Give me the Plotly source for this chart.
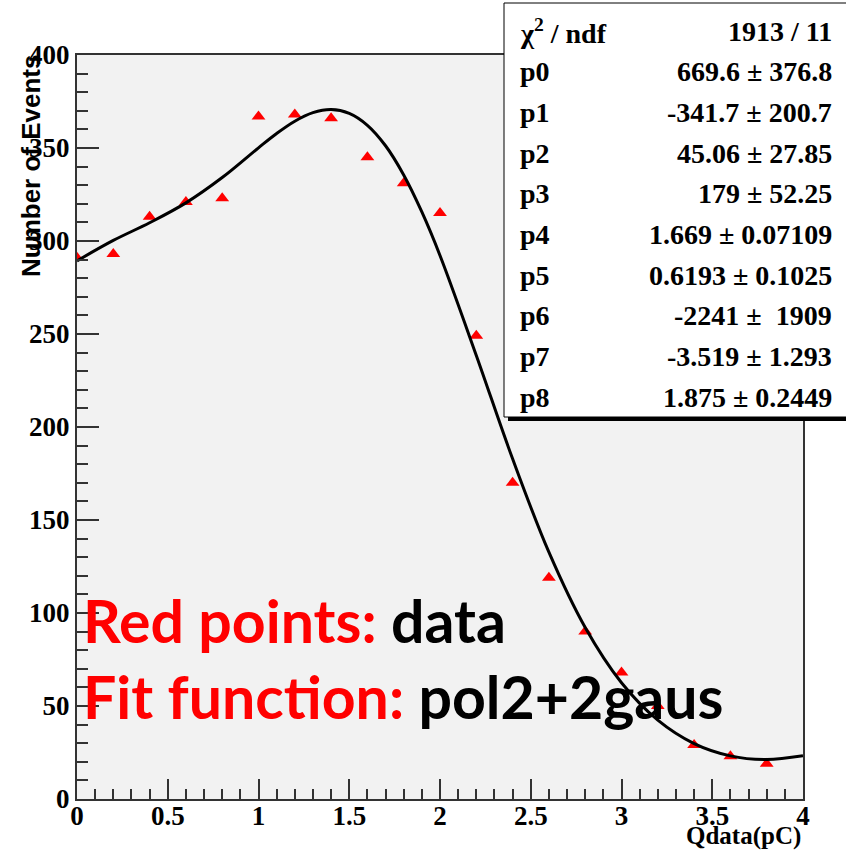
import plotly.graph_objects as go

# ---- data points (red triangles) ----
x_data = [0.0, 0.2, 0.4, 0.6, 0.8, 1.0, 1.2, 1.4, 1.6, 1.8, 2.0, 2.2, 2.4, 2.6, 2.8, 3.0, 3.2, 3.4, 3.6, 3.8]
y_data = [291, 293, 313, 321, 323, 367, 368, 366, 345, 331, 315, 249, 170, 119, 90, 68, 50, 29, 23, 19]

# ---- fit curve (pol2+2gaus), values read at sample positions ----
fit_x = [0.0, 0.2, 0.4, 0.6, 0.8, 1.0, 1.1, 1.2, 1.3, 1.4, 1.5, 1.6, 1.7, 1.8, 1.9, 2.0,
         2.2, 2.4, 2.6, 2.8, 3.0, 3.2, 3.4, 3.6, 3.8, 4.0]
fit_y = [289.3, 300.3, 309.8, 320.5, 334.1, 350.1, 357.8, 364.4, 369.0, 370.7, 368.6, 362.2,
         351.2, 335.5, 315.6, 292.2, 238.5, 182.9, 132.7, 92.2, 62.5, 42.4, 29.8, 23.2, 21.2, 23.2]

# ---- stats box ----
stat_names = ["χ<sup>2</sup> / ndf", "p0", "p1", "p2", "p3", "p4", "p5", "p6", "p7", "p8"]
stat_values = ["1913 / 11", "669.6 ± 376.8", "-341.7 ± 200.7", "45.06 ± 27.85", "179 ± 52.25",
               "1.669 ± 0.07109", "0.6193 ± 0.1025", "-2241 ±  1909", "-3.519 ± 1.293",
               "1.875 ± 0.2449"]

W, H = 846, 852
L, R, T, B = 77, 43, 55, 53
PW, PH = W - L - R, H - T - B


def px(xp):
    return (xp - L) / PW


def py(yp):
    return (H - B - yp) / PH


fig = go.Figure()
fig.add_trace(go.Scatter(x=x_data, y=y_data, mode="markers",
                         marker=dict(symbol="triangle-up", size=12, color="#ff0000",
                                     line=dict(width=0)),
                         hoverinfo="skip"))
fig.add_trace(go.Scatter(x=fit_x, y=fit_y, mode="lines",
                         line=dict(color="black", width=3, shape="spline"),
                         hoverinfo="skip"))

tickfont = dict(family="Liberation Serif", size=27, color="black", weight="bold")
axis_common = dict(ticks="inside", tickwidth=1.5, tickcolor="#333333", showline=True,
                   linecolor="#333333", linewidth=2, mirror=True, showgrid=False,
                   zeroline=False, tickfont=tickfont)

fig.update_layout(
    width=W, height=H,
    margin=dict(l=L, r=R, t=T, b=B),
    paper_bgcolor="white",
    plot_bgcolor="#f2f2f2",
    showlegend=False,
    xaxis=dict(range=[0, 4], tick0=0, dtick=0.5, ticklen=20, ticklabelstandoff=-8,
               minor=dict(dtick=0.1, ticks="inside", ticklen=10, tickwidth=1.5,
                          tickcolor="#333333", showgrid=False),
               **axis_common),
    yaxis=dict(range=[0, 400], tick0=0, dtick=50, ticklen=22,
               minor=dict(dtick=10, ticks="inside", ticklen=11, tickwidth=1.5,
                          tickcolor="#333333", showgrid=False),
               **axis_common),
)

# stats box with shadow
fig.add_shape(type="rect", xref="paper", yref="paper", layer="above",
              x0=px(508), x1=px(860), y0=py(421), y1=py(7),
              fillcolor="black", line=dict(width=0))
fig.add_shape(type="rect", xref="paper", yref="paper", layer="above",
              x0=px(504), x1=px(856), y0=py(417), y1=py(3),
              fillcolor="white", line=dict(color="black", width=1))

statfont = dict(family="Liberation Serif", size=28, color="black", weight="bold")
for i, (n, v) in enumerate(zip(stat_names, stat_values)):
    yc = py(31 + i * 40.7)
    fig.add_annotation(x=px(518), y=yc, xref="paper", yref="paper", text=n,
                       showarrow=False, xanchor="left", yanchor="middle", font=statfont)
    fig.add_annotation(x=px(834), y=yc, xref="paper", yref="paper", text=v.replace(" ", "&nbsp;"),
                       showarrow=False, xanchor="right", yanchor="middle", font=statfont)

# axis titles
fig.add_annotation(x=px(31), y=py(166), xref="paper", yref="paper", text="Number of Events",
                   textangle=-90, showarrow=False, xanchor="center", yanchor="middle",
                   font=dict(family="Liberation Sans", size=26, color="black", weight="bold"))
fig.add_annotation(x=1.0, y=py(836), xref="paper", yref="paper", text="Qdata(pC)",
                   showarrow=False, xanchor="right", yanchor="middle",
                   font=dict(family="Liberation Serif", size=25, color="black", weight="bold"))

# overlay text
bigfont = dict(family="Lato", size=59, color="black", weight="bold")
fig.add_annotation(x=px(81), y=py(620), xref="paper", yref="paper",
                   text="<span style='color:#ff0000'>Red points:</span> data",
                   showarrow=False, xanchor="left", yanchor="middle", font=bigfont)
fig.add_annotation(x=px(81), y=py(696), xref="paper", yref="paper",
                   text="<span style='color:#ff0000'>Fit function:</span> pol2+2gaus",
                   showarrow=False, xanchor="left", yanchor="middle", font=bigfont)

fig.write_html("out.html")
